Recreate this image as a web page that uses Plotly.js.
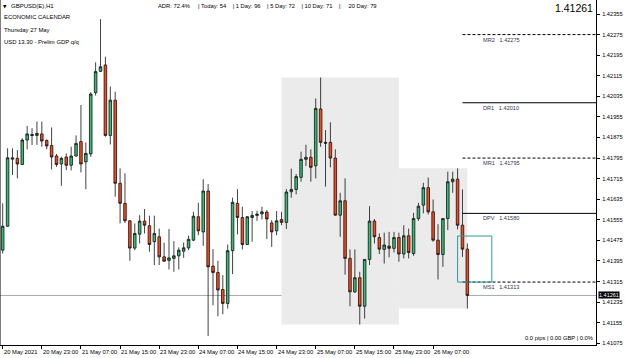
<!DOCTYPE html>
<html>
<head>
<meta charset="utf-8">
<script src="https://cdn.plot.ly/plotly-3.0.1.min.js"></script>
<style>
html,body{margin:0;padding:0;background:#fff;}
#chart{width:625px;height:358px;}
</style>
</head>
<body>
<div id="chart"></div>
<script>
// ---- Candle data (GBPUSD H1) ----
var open = [1.41437,1.41530,1.41796,1.41794,1.41770,1.41865,1.41887,1.41883,1.41889,1.41863,
1.41844,1.41803,1.41772,1.41799,1.41767,1.41803,1.41859,1.41780,1.41811,1.42049,
1.42132,1.42157,1.41883,1.42020,1.41697,1.41619,1.41551,1.41445,1.41499,1.41550,
1.41532,1.41470,1.41489,1.41411,1.41397,1.41405,1.41415,1.41433,1.41446,1.41476,
1.41567,1.41508,1.41667,1.41375,1.41350,1.41284,1.41230,1.41435,1.41619,1.41564,
1.41459,1.41564,1.41572,1.41578,1.41585,1.41543,1.41512,1.41556,1.41545,1.41664,
1.41673,1.41720,1.41790,1.41798,1.41765,1.41986,1.41856,1.41856,1.41795,1.41573,
1.41629,1.41405,1.41275,1.41330,1.41219,1.41401,1.41550,1.41486,1.41440,1.41453,
1.41444,1.41486,1.41422,1.41493,1.41424,1.41560,1.41612,1.41680,1.41586,1.41476,
1.41420,1.41560,1.41703,1.41713,1.41534,1.41441];
var high = [1.41619,1.41833,1.41833,1.41826,1.41872,1.41920,1.41911,1.41937,1.41937,1.41868,
1.41914,1.41811,1.41800,1.41813,1.41839,1.41883,1.42001,1.41856,1.42051,1.42167,
1.42335,1.42189,1.42073,1.42053,1.41755,1.41736,1.41554,1.41541,1.41573,1.41597,
1.41571,1.41571,1.41521,1.41466,1.41519,1.41472,1.41448,1.41467,1.41493,1.41586,
1.41621,1.41713,1.41694,1.41441,1.41396,1.41340,1.41459,1.41641,1.41674,1.41606,
1.41569,1.41589,1.41590,1.41606,1.41593,1.41554,1.41589,1.41586,1.41674,1.41754,
1.41733,1.41820,1.41847,1.41829,1.42027,1.42108,1.41904,1.41934,1.41829,1.41660,
1.41716,1.41440,1.41440,1.41353,1.41401,1.41608,1.41558,1.41502,1.41505,1.41508,
1.41508,1.41505,1.41534,1.41521,1.41582,1.41621,1.41699,1.41719,1.41634,1.41538,
1.41560,1.41742,1.41742,1.41755,1.41673,1.41463];
var low = [1.41424,1.41528,1.41729,1.41716,1.41768,1.41829,1.41846,1.41846,1.41839,1.41829,
1.41751,1.41761,1.41687,1.41748,1.41747,1.41800,1.41739,1.41674,1.41800,1.42038,
1.42130,1.41878,1.41848,1.41645,1.41541,1.41543,1.41396,1.41437,1.41463,1.41502,
1.41431,1.41379,1.41379,1.41392,1.41362,1.41353,1.41362,1.41407,1.41437,1.41472,
1.41495,1.41454,1.41103,1.41223,1.41180,1.41188,1.41210,1.41344,1.41498,1.41440,
1.41457,1.41470,1.41551,1.41556,1.41480,1.41450,1.41495,1.41534,1.41519,1.41641,
1.41654,1.41703,1.41764,1.41703,1.41716,1.41839,1.41684,1.41759,1.41571,1.41489,
1.41342,1.41219,1.41271,1.41148,1.41171,1.41379,1.41463,1.41422,1.41385,1.41409,
1.41428,1.41392,1.41405,1.41405,1.41415,1.41551,1.41580,1.41576,1.41470,1.41323,
1.41372,1.41515,1.41660,1.41518,1.41411,1.41210];
var close = [1.41530,1.41796,1.41791,1.41772,1.41865,1.41889,1.41883,1.41891,1.41861,1.41842,
1.41799,1.41770,1.41794,1.41767,1.41803,1.41852,1.41772,1.41813,1.42044,1.42131,
1.42150,1.41883,1.42020,1.41697,1.41619,1.41551,1.41445,1.41502,1.41550,1.41534,
1.41459,1.41502,1.41411,1.41394,1.41407,1.41415,1.41437,1.41446,1.41479,1.41569,
1.41512,1.41667,1.41372,1.41350,1.41282,1.41230,1.41435,1.41623,1.41564,1.41459,
1.41567,1.41572,1.41577,1.41586,1.41558,1.41508,1.41551,1.41545,1.41663,1.41673,
1.41723,1.41790,1.41798,1.41759,1.41988,1.41856,1.41853,1.41795,1.41573,1.41629,
1.41405,1.41275,1.41330,1.41219,1.41401,1.41550,1.41489,1.41441,1.41457,1.41444,
1.41486,1.41422,1.41493,1.41428,1.41560,1.41608,1.41680,1.41586,1.41476,1.41420,
1.41560,1.41703,1.41713,1.41534,1.41441,1.41261];

// ---- Time axis labels (bar index -> label) ----
var xTickIdx  = [0, 8, 16, 24, 32, 40, 48, 56, 64, 72, 80, 88];
var xTickText = ['20 May 2021','20 May 23:00','21 May 07:00','21 May 15:00','23 May 23:00',
                 '24 May 07:00','24 May 15:00','24 May 23:00','25 May 07:00','25 May 15:00',
                 '25 May 23:00','26 May 07:00'];

// ---- Price axis ticks ----
var yTicks = [1.41075,1.41155,1.41235,1.41315,1.41395,1.41475,1.41555,1.41635,1.41715,
              1.41795,1.41875,1.41955,1.42035,1.42115,1.42195,1.42275,1.42355];

// ---- Pivot levels ----
var levelNames  = ['MR2','DR1','MR1','DPV','MS1'];
var levelValues = [1.42275, 1.42010, 1.41795, 1.41580, 1.41313];
var levelStartIdx = 94;

// ---- Session boxes (bar index ranges) ----
var sessionStart = [57, 81];
var sessionEnd   = [81, 95];

// ---- Teal range box ----
var tealIdx   = [93, 100];
var tealPrice = [1.41313, 1.41492];

var lastPrice = close[close.length - 1];

// ---- Info texts ----
var symbolText = 'GBPUSD(E),H1';
var statsText = 'ADR: 72.4%&nbsp;&nbsp;&nbsp;&nbsp;&nbsp;|&nbsp;Today: 54&nbsp;&nbsp;&nbsp;&nbsp;|&nbsp;1 Day: 96&nbsp;&nbsp;&nbsp;&nbsp;|&nbsp;5 Day: 72&nbsp;&nbsp;&nbsp;&nbsp;|&nbsp;10 Day: 71&nbsp;&nbsp;&nbsp;&nbsp;|&nbsp;&nbsp;&nbsp;&nbsp;&nbsp;20 Day: 79';
var calendarLines = ['ECONOMIC CALENDAR', 'Thursday 27 May', 'USD 13.30 - Prelim GDP q/q'];
var pnlText = '0.0 pips | 0.00 GBP | 0.0%';

// ---- geometry helpers ----
var W = 625, H = 358, mR = 29, mB = 13;
var plotW = W - mR, plotH = H - mB;
function px(xp){ return xp / plotW; }
function py(yp){ return 1 - yp / plotH; }

var idx = open.map(function(_, i){ return i; });

var GREEN = '#2fbf72', RED = '#ff4519';
var trace = {
  type: 'candlestick',
  x: idx, open: open, high: high, low: low, close: close,
  increasing: {line: {color: '#111', width: 0.8}, fillcolor: GREEN},
  decreasing: {line: {color: '#111', width: 0.8}, fillcolor: RED},
  whiskerwidth: 0,
  hoverinfo: 'skip',
  showlegend: false
};

var XMAX = 121.3;
var shapes = [];
// session boxes
for (var s = 0; s < sessionStart.length; s++) {
  var hi = -Infinity, lo = Infinity;
  for (var i = sessionStart[s]; i <= sessionEnd[s] && i < high.length; i++) {
    hi = Math.max(hi, high[i]); lo = Math.min(lo, low[i]);
  }
  shapes.push({type:'rect', layer:'below', xref:'x', yref:'y',
    x0: sessionStart[s], x1: sessionEnd[s], y0: lo, y1: hi,
    fillcolor:'#ebebeb', line:{width:0}});
}
// current price line
shapes.push({type:'line', layer:'below', xref:'paper', yref:'y', x0:0, x1:1, y0:lastPrice, y1:lastPrice,
  line:{color:'#a3a9ad', width:1}});
// pivot levels
levelValues.forEach(function(v, k){
  shapes.push({type:'line', layer:'above', xref:'x', yref:'y', x0: levelStartIdx, x1: XMAX, y0: v, y1: v,
    line:{color:'#000', width:1, dash: levelNames[k].charAt(0) === 'M' ? '3px,2px' : 'solid'}});
});
// teal box
shapes.push({type:'rect', layer:'above', xref:'x', yref:'y', x0: tealIdx[0], x1: tealIdx[1], y0: tealPrice[0], y1: tealPrice[1],
  line:{color:'#2a9d9d', width:1}, fillcolor:'rgba(0,0,0,0)'});
// left frame
shapes.push({type:'line', xref:'paper', yref:'paper', x0:0, x1:0, y0:0, y1:1, line:{color:'#000', width:1}});

var F = 'Liberation Sans, Arial, sans-serif';
var annotations = [];
// x tick labels
xTickIdx.forEach(function(v, k){
  annotations.push({xref:'x', yref:'paper', x: v, y: 0, xanchor:'left', yanchor:'top', yshift:-2, xshift:-1,
    text: xTickText[k], showarrow:false, font:{family:F, size:5.8, color:'#000'}});
});
// level labels
levelValues.forEach(function(v, k){
  annotations.push({xref:'x', yref:'y', x: levelStartIdx + 3.8, y: v, xanchor:'left', yanchor:'top', yshift:0,
    text: levelNames[k] + '&nbsp;&nbsp;&nbsp;' + v.toFixed(5), showarrow:false, font:{family:F, size:5.6, color:'#33334d'}});
});
// last price label on axis
annotations.push({xref:'paper', yref:'y', x:1, y:lastPrice, xanchor:'left', yanchor:'middle', xshift:2,
  text: lastPrice.toFixed(5), showarrow:false, bgcolor:'#000', borderpad:0,
  font:{family:F, size:5.5, color:'#fff'}});
// big price
annotations.push({xref:'paper', yref:'paper', x: px(595), y: py(8), xanchor:'right', yanchor:'middle',
  text: lastPrice.toFixed(5), showarrow:false, font:{family:F, size:10.5, color:'#000'}});
// symbol
annotations.push({xref:'paper', yref:'paper', x: px(1), y: py(6), xanchor:'left', yanchor:'middle',
  text: '\u25BC', showarrow:false, font:{family:'DejaVu Sans', size:4.5, color:'#000'}});
annotations.push({xref:'paper', yref:'paper', x: px(9), y: py(6), xanchor:'left', yanchor:'middle',
  text: symbolText, showarrow:false, font:{family:F, size:6, color:'#000'}});
annotations.push({xref:'paper', yref:'paper', x: px(156), y: py(6), xanchor:'left', yanchor:'middle',
  text: statsText, showarrow:false, font:{family:F, size:5.8, color:'#000'}});
// calendar
var calY = [17, 30, 42];
calendarLines.forEach(function(t, k){
  annotations.push({xref:'paper', yref:'paper', x: px(2), y: py(calY[k]), xanchor:'left', yanchor:'middle',
    text: t, showarrow:false, font:{family:F, size:5.9, color:'#000'}});
});
// pnl
annotations.push({xref:'paper', yref:'paper', x: px(595), y: py(338), xanchor:'right', yanchor:'middle',
  text: pnlText, showarrow:false, font:{family:F, size:5.8, color:'#000'}});

var layout = {
  width: W, height: H,
  margin: {l:0, r:mR, t:0, b:mB, pad:0},
  paper_bgcolor:'#fff', plot_bgcolor:'#fff',
  showlegend:false,
  boxgap: 0.25,
  xaxis: {range:[-0.55, XMAX], showgrid:false, zeroline:false, showline:true, linecolor:'#000', linewidth:1,
          ticks:'outside', ticklen:3, tickcolor:'#000', tickwidth:1, tickvals:xTickIdx, showticklabels:false,
          rangeslider:{visible:false}, fixedrange:true},
  yaxis: {side:'right', range:[1.410684, 1.424094], showgrid:false, zeroline:false, showline:true,
          linecolor:'#000', linewidth:1, ticks:'outside', ticklen:3, tickcolor:'#000', tickwidth:1,
          tickvals:yTicks, ticktext:yTicks.map(function(v){return v.toFixed(5);}),
          tickfont:{family:F, size:5.7, color:'#000'}, ticklabelstandoff:1, fixedrange:true},
  shapes: shapes,
  annotations: annotations
};

Plotly.newPlot('chart', [trace], layout, {displayModeBar:false, staticPlot:true});
</script>
</body>
</html>
